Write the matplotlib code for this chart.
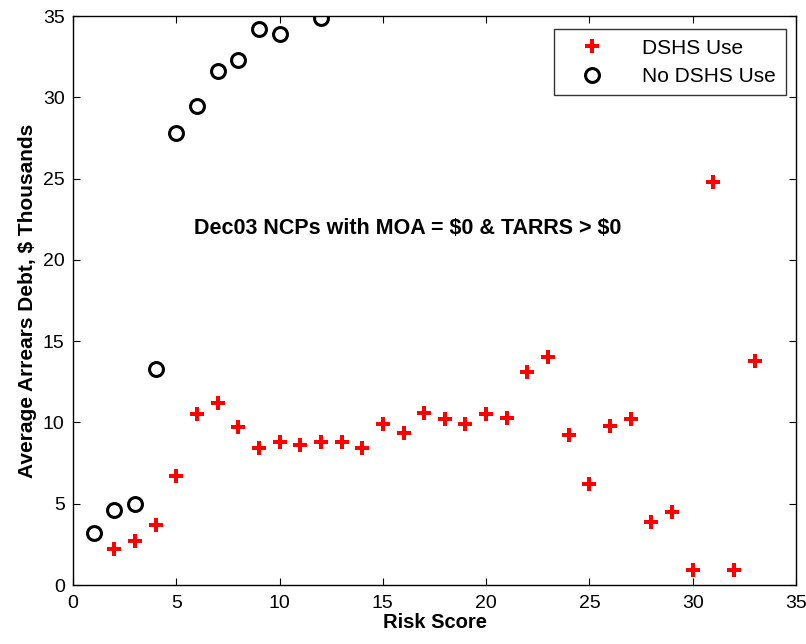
import matplotlib
matplotlib.use("Agg")
import matplotlib.pyplot as plt

plt.rcParams['font.family'] = ['Liberation Sans', 'DejaVu Sans']

# DSHS Use (red)
dshs_x = list(range(2, 34))
dshs_y = [2.2, 2.7, 3.7, 6.7, 10.5, 11.2, 9.7, 8.4, 8.8, 8.6, 8.8, 8.8, 8.4,
          9.9, 9.35, 10.6, 10.2, 9.9, 10.5, 10.3, 13.1, 14.0, 9.2, 6.2, 9.8,
          10.2, 3.9, 4.5, 0.9, 24.8, 0.9, 13.8]

# No DSHS Use (black circles)
no_x = [1, 2, 3, 4, 5, 6, 7, 8, 9, 10, 12]
no_y = [3.2, 4.6, 5.0, 13.3, 27.8, 29.5, 31.6, 32.3, 34.2, 33.9, 34.9]

fig = plt.figure(figsize=(8.06, 6.44), dpi=100)
ax = fig.add_axes([0.0906, 0.0916, 0.897, 0.8834])

ax.plot(dshs_x, dshs_y, 'P', color='red', markersize=10.5, markeredgewidth=0,
        linestyle='none', label='DSHS Use')
ax.plot(no_x, no_y, 'o', markerfacecolor='none', markeredgecolor='black',
        markeredgewidth=2.2, markersize=10, linestyle='none', label='No DSHS Use')

ax.set_xlim(0, 35)
ax.set_ylim(0, 35)
ax.set_xticks(range(0, 36, 5))
ax.set_yticks(range(0, 36, 5))
ax.tick_params(direction='in', top=True, right=True, labelsize=14, length=5)
ax.tick_params(axis='x', pad=7)
ax.tick_params(axis='y', pad=6)
for s in ax.spines.values():
    s.set_linewidth(1)

ax.set_xlabel('Risk Score', fontsize=14.5, fontweight='bold', labelpad=1)
ax.set_ylabel('Average Arrears Debt, \\$ Thousands', fontsize=15,
              fontweight='bold', labelpad=4)

ax.text(16.2, 21.95, 'Dec03 NCPs with MOA = \\$0 & TARRS > \\$0', fontsize=15.5,
        fontweight='bold', ha='center', va='center')

leg = ax.legend(loc='upper right', fontsize=15, frameon=True, fancybox=False,
                borderaxespad=0.5, handletextpad=1.0, borderpad=0.45,
                labelspacing=0.45, handlelength=2.8,
                bbox_to_anchor=(1.0, 0.995))
leg.get_frame().set_edgecolor('black')
leg.get_frame().set_linewidth(1)

fig.savefig('out.png', dpi=100)
